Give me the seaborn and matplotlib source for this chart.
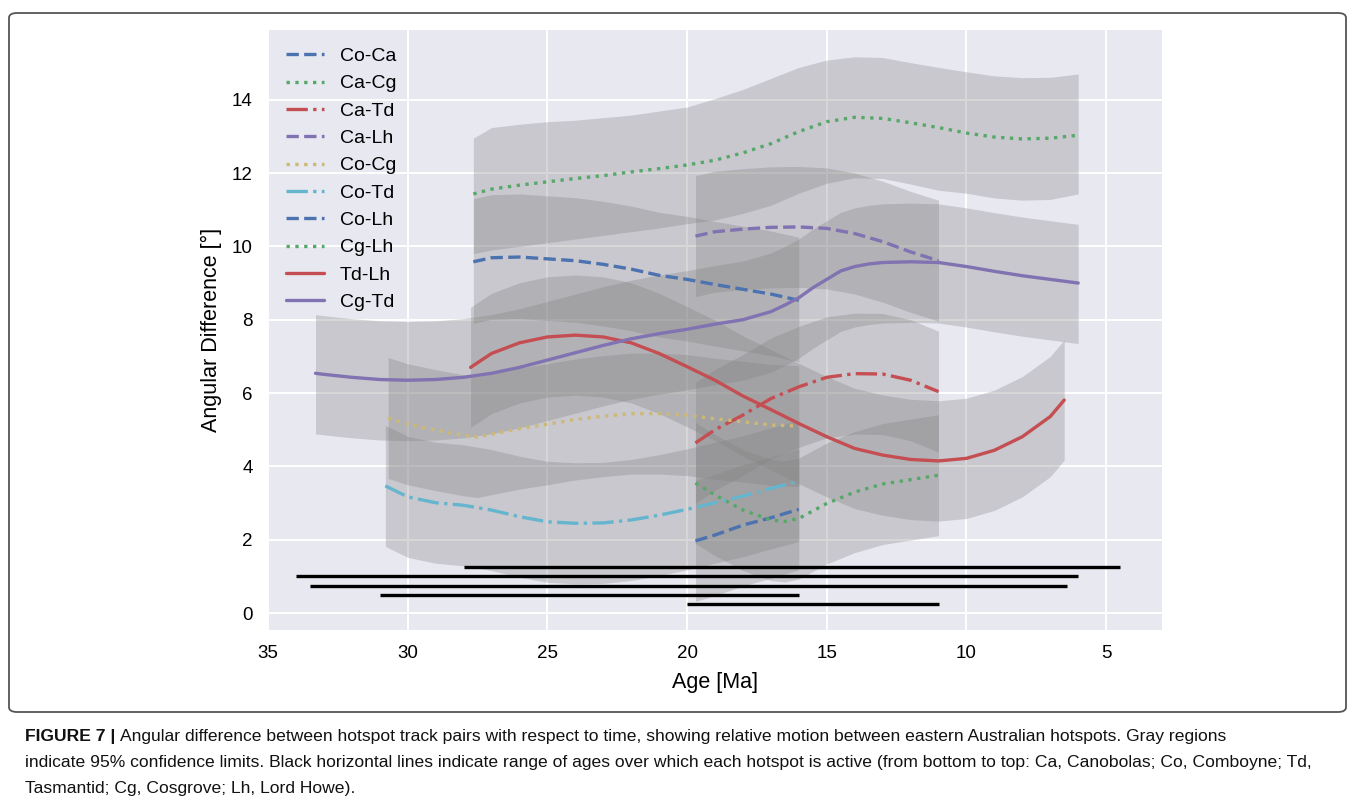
import matplotlib
matplotlib.use("Agg")
import matplotlib.pyplot as plt
from matplotlib import font_manager
from matplotlib.patches import FancyBboxPatch
import seaborn as sns

# ---------------------------------------------------------------------------
# Hotspot activity ranges (Ma) and the height at which each range bar is drawn
# ---------------------------------------------------------------------------
hotspots = ["Ca", "Co", "Td", "Cg", "Lh"]
active_old = [20.0, 31.0, 33.5, 34.0, 28.0]
active_young = [11.0, 16.0, 6.4, 6.0, 4.5]
bar_level = [0.25, 0.5, 0.75, 1.0, 1.25]

# ---------------------------------------------------------------------------
# Angular difference between hotspot track pairs (degrees) with 95% limits
# ---------------------------------------------------------------------------
co_ca_age = [19.7, 19, 18, 17, 16]
co_ca_mid = [1.97, 2.13, 2.40, 2.60, 2.83]
co_ca_lo = [0.32, 0.48, 0.74, 0.95, 1.18]
co_ca_hi = [3.62, 3.78, 4.05, 4.25, 4.48]

ca_cg_age = [19.7, 19, 18, 17, 16.5, 16, 15, 14, 13, 12, 11]
ca_cg_mid = [3.55, 3.22, 2.81, 2.54, 2.50, 2.58, 2.99, 3.30, 3.52, 3.64, 3.76]
ca_cg_lo = [1.90, 1.57, 1.16, 0.89, 0.85, 0.93, 1.34, 1.65, 1.87, 1.99, 2.11]
ca_cg_hi = [5.20, 4.87, 4.46, 4.19, 4.15, 4.23, 4.64, 4.95, 5.17, 5.29, 5.41]

ca_td_age = [19.7, 19, 18, 17, 16, 15, 14, 13, 12, 11]
ca_td_mid = [4.64, 5.00, 5.40, 5.85, 6.17, 6.43, 6.53, 6.52, 6.35, 6.04]
ca_td_lo = [2.99, 3.35, 3.75, 4.20, 4.52, 4.78, 4.88, 4.87, 4.70, 4.39]
ca_td_hi = [6.29, 6.65, 7.05, 7.50, 7.82, 8.08, 8.18, 8.17, 8.00, 7.69]

ca_lh_age = [19.7, 19, 18, 17, 16, 15, 14, 13, 12, 11]
ca_lh_mid = [10.28, 10.40, 10.47, 10.52, 10.53, 10.49, 10.35, 10.13, 9.85, 9.61]
ca_lh_lo = [8.63, 8.75, 8.82, 8.87, 8.88, 8.84, 8.70, 8.48, 8.20, 7.96]
ca_lh_hi = [11.93, 12.05, 12.12, 12.17, 12.18, 12.14, 12.00, 11.78, 11.50, 11.26]

co_cg_age = [30.7, 30, 29, 28, 27.5, 27, 26, 25, 24, 23, 22, 21, 20, 19, 18, 17, 16]
co_cg_mid = [5.32, 5.15, 4.99, 4.85, 4.80, 4.88, 5.03, 5.15, 5.28, 5.37, 5.44, 5.44,
             5.40, 5.30, 5.22, 5.13, 5.10]
co_cg_lo = [3.67, 3.50, 3.34, 3.20, 3.15, 3.23, 3.38, 3.50, 3.63, 3.72, 3.79, 3.79,
            3.75, 3.65, 3.57, 3.48, 3.45]
co_cg_hi = [6.97, 6.80, 6.64, 6.50, 6.45, 6.53, 6.68, 6.80, 6.93, 7.02, 7.09, 7.09,
            7.05, 6.95, 6.87, 6.78, 6.75]

co_td_age = [30.8, 30, 29, 28, 27, 26, 25, 24, 23, 22, 21, 20, 19, 18, 17, 16]
co_td_mid = [3.47, 3.17, 3.01, 2.94, 2.81, 2.63, 2.49, 2.45, 2.46, 2.54, 2.67, 2.83,
             3.01, 3.19, 3.40, 3.60]
co_td_lo = [1.82, 1.52, 1.36, 1.29, 1.16, 0.98, 0.84, 0.80, 0.81, 0.89, 1.02, 1.18,
            1.36, 1.54, 1.75, 1.95]
co_td_hi = [5.12, 4.82, 4.66, 4.59, 4.46, 4.28, 4.14, 4.10, 4.11, 4.19, 4.32, 4.48,
            4.66, 4.84, 5.05, 5.25]

co_lh_age = [27.65, 27, 26, 25, 24, 23, 22, 21, 20, 19, 18, 17, 16]
co_lh_mid = [9.58, 9.69, 9.71, 9.66, 9.61, 9.51, 9.38, 9.21, 9.10, 8.96, 8.83, 8.70, 8.53]
co_lh_lo = [7.90, 8.01, 8.03, 7.98, 7.93, 7.83, 7.70, 7.53, 7.42, 7.28, 7.15, 7.02, 6.85]
co_lh_hi = [11.30, 11.41, 11.43, 11.38, 11.33, 11.23, 11.10, 10.93, 10.82, 10.68, 10.55,
            10.42, 10.25]

cg_lh_age = [27.65, 27, 26, 25, 24, 23, 22, 21, 20, 19, 18, 17, 16, 15, 14, 13, 12, 11,
             10, 9, 8, 7, 6]
cg_lh_mid = [11.43, 11.56, 11.67, 11.76, 11.85, 11.93, 12.03, 12.12, 12.22, 12.35, 12.55,
             12.80, 13.13, 13.40, 13.52, 13.49, 13.37, 13.24, 13.09, 12.98, 12.93, 12.95,
             13.03]
cg_lh_lo = [9.80, 9.90, 10.00, 10.10, 10.20, 10.30, 10.40, 10.50, 10.62, 10.72, 10.90,
            11.12, 11.45, 11.72, 11.87, 11.85, 11.70, 11.53, 11.45, 11.32, 11.26, 11.28,
            11.43]
cg_lh_hi = [12.95, 13.24, 13.33, 13.40, 13.44, 13.51, 13.58, 13.69, 13.80, 14.03, 14.28,
            14.58, 14.88, 15.08, 15.17, 15.15, 15.01, 14.88, 14.76, 14.65, 14.60, 14.61,
            14.70]

td_lh_age = [27.75, 27, 26, 25, 24, 23, 22, 21, 20, 19, 18, 17, 16, 15, 14, 13, 12, 11,
             10, 9, 8, 7, 6.5]
td_lh_mid = [6.70, 7.08, 7.37, 7.53, 7.58, 7.53, 7.37, 7.08, 6.72, 6.35, 5.92, 5.55, 5.17,
             4.81, 4.49, 4.31, 4.19, 4.15, 4.22, 4.44, 4.81, 5.36, 5.81]
td_lh_lo = [5.06, 5.44, 5.73, 5.89, 5.94, 5.89, 5.73, 5.44, 5.08, 4.71, 4.28, 3.91, 3.53,
            3.17, 2.85, 2.67, 2.55, 2.51, 2.58, 2.80, 3.17, 3.72, 4.17]
td_lh_hi = [8.34, 8.72, 9.01, 9.17, 9.22, 9.17, 9.01, 8.72, 8.36, 7.99, 7.56, 7.19, 6.81,
            6.45, 6.13, 5.95, 5.83, 5.79, 5.86, 6.08, 6.45, 7.00, 7.45]

cg_td_age = [33.3, 33, 32, 31, 30, 29, 28, 27, 26, 25, 24, 23, 22, 21, 20, 19, 18, 17,
             16.5, 16, 15.5, 15, 14.5, 14, 13.5, 13, 12, 11, 10, 9, 8, 7, 6]
cg_td_mid = [6.54, 6.51, 6.43, 6.37, 6.35, 6.37, 6.43, 6.54, 6.70, 6.90, 7.10, 7.30, 7.48,
             7.62, 7.74, 7.88, 8.00, 8.22, 8.40, 8.60, 8.87, 9.10, 9.33, 9.45, 9.52, 9.56,
             9.58, 9.56, 9.45, 9.32, 9.20, 9.10, 9.00]
cg_td_lo = [4.89, 4.86, 4.78, 4.72, 4.70, 4.72, 4.78, 4.89, 5.05, 5.25, 5.45, 5.65, 5.83,
            5.97, 6.09, 6.23, 6.35, 6.57, 6.75, 6.95, 7.22, 7.45, 7.68, 7.80, 7.87, 7.91,
            7.93, 7.91, 7.80, 7.67, 7.55, 7.45, 7.35]
cg_td_hi = [8.14, 8.11, 8.03, 7.97, 7.95, 7.97, 8.03, 8.14, 8.30, 8.50, 8.70, 8.90, 9.08,
            9.22, 9.34, 9.48, 9.60, 9.82, 10.00, 10.20, 10.47, 10.70, 10.93, 11.05, 11.12,
            11.16, 11.18, 11.16, 11.05, 10.92, 10.80, 10.70, 10.60]

pair_labels = ["Co-Ca", "Ca-Cg", "Ca-Td", "Ca-Lh", "Co-Cg",
               "Co-Td", "Co-Lh", "Cg-Lh", "Td-Lh", "Cg-Td"]
pair_series = [
    (co_ca_age, co_ca_mid, co_ca_lo, co_ca_hi),
    (ca_cg_age, ca_cg_mid, ca_cg_lo, ca_cg_hi),
    (ca_td_age, ca_td_mid, ca_td_lo, ca_td_hi),
    (ca_lh_age, ca_lh_mid, ca_lh_lo, ca_lh_hi),
    (co_cg_age, co_cg_mid, co_cg_lo, co_cg_hi),
    (co_td_age, co_td_mid, co_td_lo, co_td_hi),
    (co_lh_age, co_lh_mid, co_lh_lo, co_lh_hi),
    (cg_lh_age, cg_lh_mid, cg_lh_lo, cg_lh_hi),
    (td_lh_age, td_lh_mid, td_lh_lo, td_lh_hi),
    (cg_td_age, cg_td_mid, cg_td_lo, cg_td_hi),
]

# classic six-colour "deep" cycle and the dash cycle used for the pairs
palette = ["#4C72B0", "#55A868", "#C44E52", "#8172B2", "#CCB974", "#64B5CD"]
styles = ["--", ":", "-.", "--", ":", "-.", "--", ":", "-", "-"]

x_ticks = [35, 30, 25, 20, 15, 10, 5]
y_ticks = [0, 2, 4, 6, 8, 10, 12, 14]

# ---------------------------------------------------------------------------
sns.set_theme(style="darkgrid", rc={
    "axes.facecolor": "#E8E8F1",
    "grid.color": "white",
    "grid.linewidth": 1.4,
    "xtick.major.pad": 11,
    "ytick.major.pad": 11,
    "text.color": "black",
    "axes.labelcolor": "black",
    "xtick.color": "black",
    "ytick.color": "black",
})
plt.rcParams["font.family"] = ["Liberation Sans", "DejaVu Sans"]

W, H = 1355, 800
fig = plt.figure(figsize=(W / 100, H / 100), dpi=100)
fig.patch.set_facecolor("white")
ax = fig.add_axes([268 / W, 1 - 630 / H, (1162 - 268) / W, 600 / H])

# confidence envelopes first, so every curve sits on top of the gray stack
for age, mid, lo, hi in pair_series:
    ax.fill_between(age, lo, hi, color="#808080", alpha=0.30, linewidth=0, zorder=1)

for i, (label, (age, mid, lo, hi)) in enumerate(zip(pair_labels, pair_series)):
    sns.lineplot(x=age, y=mid, ax=ax, color=palette[i % len(palette)],
                 linestyle=styles[i], linewidth=2.4, label=label,
                 estimator=None, errorbar=None, sort=False, zorder=3)

# activity range of every hotspot
ax.hlines(bar_level, active_young, active_old, color="black", linewidth=2.4, zorder=4)

ax.set_xlim(35, 3)
ax.set_ylim(-0.46, 15.9)
ax.set_xticks(x_ticks)
ax.set_yticks(y_ticks)
ax.tick_params(labelsize=13.5, length=0)
ax.set_xlabel("Age [Ma]", fontsize=15.5, labelpad=7)
ax.set_ylabel("Angular Difference [°]", fontsize=15.5, labelpad=7)
for s in ax.spines.values():
    s.set_visible(False)

ax.legend(loc="upper left", frameon=False, fontsize=14, handlelength=2.0,
          labelspacing=0.5, handletextpad=0.8, borderaxespad=0.5)

# frame around the figure panel
frame = FancyBboxPatch((9 / W, 1 - 712 / H), (1346 - 9) / W, (712 - 13) / H,
                       boxstyle="round,pad=0,rounding_size=0.006",
                       transform=fig.transFigure, facecolor="none",
                       edgecolor="#555555", linewidth=1.3, zorder=0)
fig.patches.append(frame)

# caption underneath the panel
names = {f.name for f in font_manager.fontManager.ttflist}
if "Liberation Sans Narrow" in names:
    cap_family, cap_size = ["Liberation Sans Narrow", "DejaVu Sans"], 14.5
else:
    cap_family, cap_size = ["Liberation Sans", "DejaVu Sans"], 12.6

renderer = fig.canvas.get_renderer()
x0 = 25 / W
head = fig.text(x0, 1 - 737 / H, "FIGURE 7 | ", fontsize=cap_size, family=cap_family,
                fontweight="bold", va="center", ha="left", color="#111111")
bb = head.get_window_extent(renderer=renderer)
fig.text(bb.x1 / W, 1 - 737 / H,
         "Angular difference between hotspot track pairs with respect to time, showing "
         "relative motion between eastern Australian hotspots. Gray regions",
         fontsize=cap_size, family=cap_family, va="center", ha="left", color="#111111")
fig.text(x0, 1 - 763 / H,
         "indicate 95% confidence limits. Black horizontal lines indicate range of ages over "
         "which each hotspot is active (from bottom to top: Ca, Canobolas; Co, Comboyne; Td,",
         fontsize=cap_size, family=cap_family, va="center", ha="left", color="#111111")
fig.text(x0, 1 - 788 / H, "Tasmantid; Cg, Cosgrove; Lh, Lord Howe).",
         fontsize=cap_size, family=cap_family, va="center", ha="left", color="#111111")

fig.savefig("out.png", dpi=100, facecolor="white")
